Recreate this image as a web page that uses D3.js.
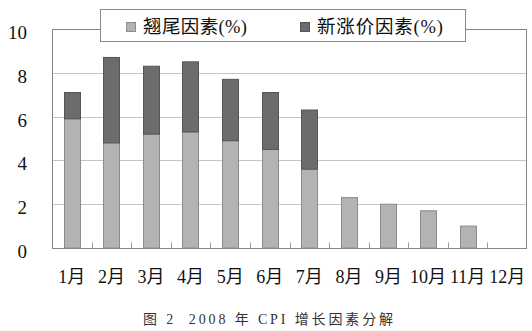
<!DOCTYPE html>
<html>
<head>
<meta charset="utf-8">
<script src="https://cdn.jsdelivr.net/npm/d3@7"></script>
<style>
  html, body { margin: 0; padding: 0; background: #fff; }
  svg { display: block; }
  text { font-family: "Liberation Serif", "Noto Sans CJK SC", serif; fill: #111; }
</style>
</head>
<body>
<svg id="chart" width="532" height="331"></svg>
<script>
// 2008 CPI growth decomposition: carry-over vs. new price increase (%)
const months = ["1月","2月","3月","4月","5月","6月","7月","8月","9月","10月","11月","12月"];
const carryOver = [5.9, 4.8, 5.2, 5.3, 4.9, 4.5, 3.6, 2.3, 2.0, 1.7, 1.0, 0];
const newIncrease = [1.2, 3.9, 3.1, 3.2, 2.8, 2.6, 2.7, 0, 0, 0, 0, 0];
const seriesNames = ["翘尾因素(%)", "新涨价因素(%)"];
const yTicks = [0, 2, 4, 6, 8, 10];
const caption = "图 2  2008 年 CPI 增长因素分解";

const colors = ["#b3b3b3", "#6c6c6c"];
const strokes = ["#8c8c8c", "#555555"];

const svg = d3.select("#chart");
const m = { left: 52, right: 5, top: 29, bottom: 83 };
const W = 532, H = 331;

const x = d3.scaleBand().domain(months)
  .range([m.left, W - m.right]).paddingInner(0.59).paddingOuter(0.295);
const xb = d3.scaleBand().domain(months).range([m.left, W - m.right]);
const y = d3.scaleLinear().domain([0, 10]).range([H - m.bottom, m.top]);

// gridlines
svg.append("g").selectAll("line").data(yTicks.filter(d => d > 0 && d < 10)).join("line")
  .attr("x1", m.left).attr("x2", W - m.right)
  .attr("y1", d => Math.round(y(d)) + 0.5).attr("y2", d => Math.round(y(d)) + 0.5)
  .attr("stroke", "#c4c4c4").attr("stroke-width", 1);

// stacked bars
const rows = months.map((mo, i) => ({ mo, v: [carryOver[i], newIncrease[i]] }));
const stack = d3.stack().keys([0, 1]).value((d, k) => d.v[k]);
const layers = stack(rows);
svg.append("g").selectAll("g").data(layers).join("g")
  .attr("fill", (d, i) => colors[i]).attr("stroke", (d, i) => strokes[i])
  .selectAll("rect").data(d => d.filter(s => s[1] - s[0] > 0)).join("rect")
  .attr("x", d => Math.round(x(d.data.mo)) + 0.5)
  .attr("width", Math.round(x.bandwidth()))
  .attr("y", d => y(d[1]))
  .attr("height", d => y(d[0]) - y(d[1]))
  .attr("stroke-width", 1);

// plot frame
const frame = svg.append("g").attr("stroke", "#858585").attr("fill", "none");
frame.append("rect")
  .attr("x", m.left + 0.5).attr("y", Math.round(y(10)) + 0.5)
  .attr("width", W - m.right - m.left - 1).attr("height", Math.round(y(0)) - Math.round(y(10)));

// category tick marks (pointing up from baseline)
const base = Math.round(y(0)) + 0.5;
svg.append("g").selectAll("line").data(months.slice(1)).join("line")
  .attr("x1", d => Math.round(xb(d)) + 0.5).attr("x2", d => Math.round(xb(d)) + 0.5)
  .attr("y1", base).attr("y2", base - 6)
  .attr("stroke", "#9a9a9a");

// y axis labels
svg.append("g").selectAll("text").data(yTicks).join("text")
  .attr("x", 27).attr("y", d => y(d) + 10)
  .attr("text-anchor", "end").attr("font-size", 19)
  .text(d => d);

// x axis labels
svg.append("g").selectAll("text").data(months).join("text")
  .attr("x", d => xb(d) + xb.bandwidth() / 2).attr("y", 283)
  .attr("text-anchor", "middle").attr("font-size", 18)
  .text(d => d);

// legend
const lg = svg.append("g");
lg.append("rect").attr("x", 100.5).attr("y", 9.5).attr("width", 365).attr("height", 32)
  .attr("fill", "#fff").attr("stroke", "#8a8a8a");
const items = [{ x: 126, tx: 143, w: 104 }, { x: 300, tx: 317, w: 126 }];
items.forEach((it, i) => {
  lg.append("rect").attr("x", it.x + 0.5).attr("y", 22.5).attr("width", 9).attr("height", 9)
    .attr("fill", colors[i]).attr("stroke", strokes[i]);
  lg.append("text").attr("x", it.tx).attr("y", 33).attr("font-size", 18.5)
    .attr("textLength", it.w).attr("lengthAdjust", "spacing")
    .text(seriesNames[i]);
});

// caption
svg.append("text").attr("x", 143).attr("y", 324).attr("font-size", 14)
  .attr("textLength", 250).attr("lengthAdjust", "spacing")
  .style("white-space", "pre").style("fill", "#333").text(caption);
</script>
</body>
</html>
